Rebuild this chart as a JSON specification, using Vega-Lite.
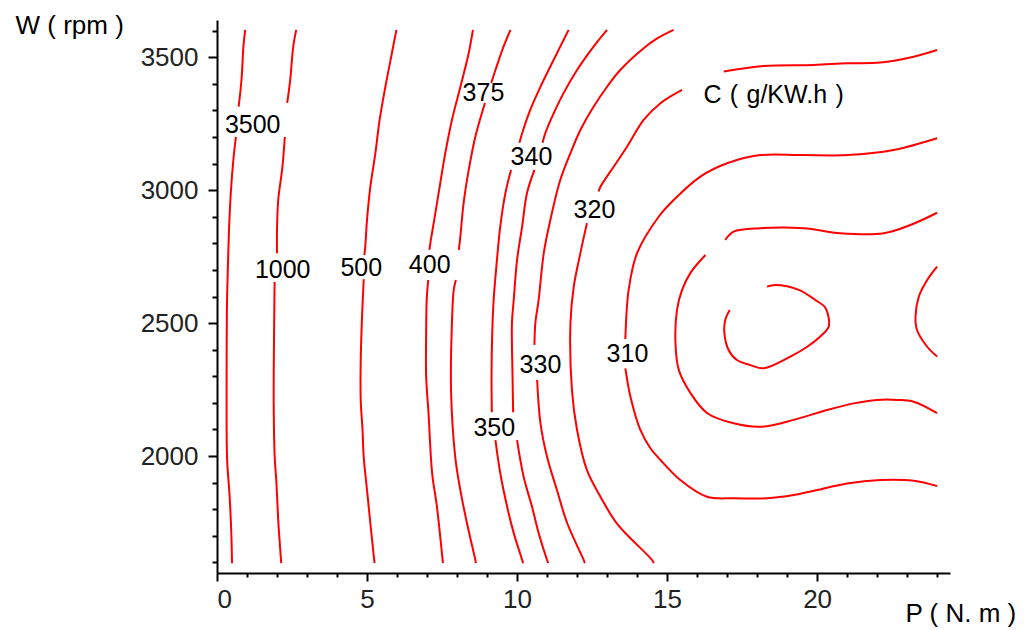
{
  "$schema": "https://vega.github.io/schema/vega-lite/v6.json",
  "width": 733,
  "height": 553,
  "autosize": "none",
  "padding": {"left": 217, "top": 20, "right": 74, "bottom": 57},
  "background": "white",
  "config": {"view": {"stroke": null}, "font": "Liberation Sans"},
  "datasets": {
    "lines": [
      {"s":"3500a","i":1,"x":0.94,"y":3603},{"s":"3500a","i":2,"x":0.88,"y":3540},{"s":"3500a","i":3,"x":0.82,"y":3420},{"s":"3500a","i":4,"x":0.72,"y":3314},
      {"s":"3500b","i":1,"x":0.63,"y":3200},{"s":"3500b","i":2,"x":0.55,"y":3120},{"s":"3500b","i":3,"x":0.46,"y":2990},{"s":"3500b","i":4,"x":0.40,"y":2850},{"s":"3500b","i":5,"x":0.36,"y":2700},{"s":"3500b","i":6,"x":0.33,"y":2550},{"s":"3500b","i":7,"x":0.32,"y":2300},{"s":"3500b","i":8,"x":0.32,"y":2100},{"s":"3500b","i":9,"x":0.34,"y":1980},{"s":"3500b","i":10,"x":0.42,"y":1850},{"s":"3500b","i":11,"x":0.48,"y":1700},{"s":"3500b","i":12,"x":0.50,"y":1597},
      {"s":"1000a","i":1,"x":2.64,"y":3603},{"s":"1000a","i":2,"x":2.54,"y":3539},{"s":"1000a","i":3,"x":2.44,"y":3415},{"s":"1000a","i":4,"x":2.34,"y":3328},
      {"s":"1000b","i":1,"x":2.26,"y":3200},{"s":"1000b","i":2,"x":2.18,"y":3087},{"s":"1000b","i":3,"x":2.04,"y":2963},{"s":"1000b","i":4,"x":2.0,"y":2850},{"s":"1000b","i":5,"x":2.0,"y":2763},
      {"s":"1000c","i":1,"x":1.92,"y":2655},{"s":"1000c","i":2,"x":1.90,"y":2440},{"s":"1000c","i":3,"x":1.89,"y":2200},{"s":"1000c","i":4,"x":1.92,"y":2004},{"s":"1000c","i":5,"x":1.98,"y":1900},{"s":"1000c","i":6,"x":2.04,"y":1760},{"s":"1000c","i":7,"x":2.10,"y":1660},{"s":"1000c","i":8,"x":2.14,"y":1597},
      {"s":"500a","i":1,"x":5.98,"y":3603},{"s":"500a","i":2,"x":5.83,"y":3516},{"s":"500a","i":3,"x":5.61,"y":3388},{"s":"500a","i":4,"x":5.42,"y":3264},{"s":"500a","i":5,"x":5.28,"y":3140},{"s":"500a","i":6,"x":5.11,"y":3012},{"s":"500a","i":7,"x":5.0,"y":2888},{"s":"500a","i":8,"x":4.94,"y":2786},{"s":"500a","i":9,"x":4.91,"y":2756},
      {"s":"500b","i":1,"x":4.89,"y":2665},{"s":"500b","i":2,"x":4.83,"y":2512},{"s":"500b","i":3,"x":4.79,"y":2361},{"s":"500b","i":4,"x":4.79,"y":2211},{"s":"500b","i":5,"x":4.85,"y":2100},{"s":"500b","i":6,"x":4.89,"y":1996},{"s":"500b","i":7,"x":5.0,"y":1872},{"s":"500b","i":8,"x":5.11,"y":1748},{"s":"500b","i":9,"x":5.25,"y":1597},
      {"s":"400a","i":1,"x":8.53,"y":3603},{"s":"400a","i":2,"x":8.39,"y":3516},{"s":"400a","i":3,"x":8.11,"y":3388},{"s":"400a","i":4,"x":7.83,"y":3264},{"s":"400a","i":5,"x":7.61,"y":3140},{"s":"400a","i":6,"x":7.42,"y":3012},{"s":"400a","i":7,"x":7.24,"y":2888},{"s":"400a","i":8,"x":7.11,"y":2801},{"s":"400a","i":9,"x":7.08,"y":2775},
      {"s":"400b","i":1,"x":7.04,"y":2662},{"s":"400b","i":2,"x":6.99,"y":2590},{"s":"400b","i":3,"x":6.97,"y":2450},{"s":"400b","i":4,"x":6.97,"y":2300},{"s":"400b","i":5,"x":7.05,"y":2161},{"s":"400b","i":6,"x":7.17,"y":1936},{"s":"400b","i":7,"x":7.33,"y":1809},{"s":"400b","i":8,"x":7.53,"y":1597},
      {"s":"375a","i":1,"x":9.78,"y":3603},{"s":"375a","i":2,"x":9.55,"y":3540},{"s":"375a","i":3,"x":9.28,"y":3452},{"s":"375a","i":4,"x":9.14,"y":3403},
      {"s":"375b","i":1,"x":8.93,"y":3328},{"s":"375b","i":2,"x":8.61,"y":3201},{"s":"375b","i":3,"x":8.39,"y":3076},{"s":"375b","i":4,"x":8.22,"y":2952},{"s":"375b","i":5,"x":8.11,"y":2825},{"s":"375b","i":6,"x":8.06,"y":2775},
      {"s":"375c","i":1,"x":7.96,"y":2662},{"s":"375c","i":2,"x":7.89,"y":2625},{"s":"375c","i":3,"x":7.83,"y":2500},{"s":"375c","i":4,"x":7.80,"y":2248},{"s":"375c","i":5,"x":7.94,"y":1996},{"s":"375c","i":6,"x":8.11,"y":1872},{"s":"375c","i":7,"x":8.33,"y":1748},{"s":"375c","i":8,"x":8.61,"y":1609},{"s":"375c","i":9,"x":8.63,"y":1597},
      {"s":"350a","i":1,"x":11.72,"y":3603},{"s":"350a","i":2,"x":11.44,"y":3540},{"s":"350a","i":3,"x":11.11,"y":3465},{"s":"350a","i":4,"x":10.78,"y":3389},{"s":"350a","i":5,"x":10.44,"y":3302},{"s":"350a","i":6,"x":10.17,"y":3214},{"s":"350a","i":7,"x":10.08,"y":3178},
      {"s":"350b","i":1,"x":9.80,"y":3076},{"s":"350b","i":2,"x":9.61,"y":2988},{"s":"350b","i":3,"x":9.44,"y":2863},{"s":"350b","i":4,"x":9.33,"y":2737},{"s":"350b","i":5,"x":9.22,"y":2587},{"s":"350b","i":6,"x":9.17,"y":2450},{"s":"350b","i":7,"x":9.15,"y":2300},{"s":"350b","i":8,"x":9.16,"y":2165},
      {"s":"350c","i":1,"x":9.28,"y":2060},{"s":"350c","i":2,"x":9.44,"y":1936},{"s":"350c","i":3,"x":9.67,"y":1809},{"s":"350c","i":4,"x":9.89,"y":1710},{"s":"350c","i":5,"x":10.17,"y":1609},{"s":"350c","i":6,"x":10.2,"y":1597},
      {"s":"340a","i":1,"x":13.0,"y":3603},{"s":"340a","i":2,"x":12.55,"y":3540},{"s":"340a","i":3,"x":12.0,"y":3452},{"s":"340a","i":4,"x":11.55,"y":3365},{"s":"340a","i":5,"x":11.22,"y":3289},{"s":"340a","i":6,"x":10.94,"y":3214},{"s":"340a","i":7,"x":10.85,"y":3178},
      {"s":"340b","i":1,"x":10.58,"y":3076},{"s":"340b","i":2,"x":10.33,"y":2988},{"s":"340b","i":3,"x":10.17,"y":2863},{"s":"340b","i":4,"x":10.0,"y":2737},{"s":"340b","i":5,"x":9.89,"y":2587},{"s":"340b","i":6,"x":9.83,"y":2500},{"s":"340b","i":7,"x":9.85,"y":2300},{"s":"340b","i":8,"x":9.87,"y":2165},
      {"s":"340c","i":1,"x":10.0,"y":2060},{"s":"340c","i":2,"x":10.22,"y":1922},{"s":"340c","i":3,"x":10.5,"y":1809},{"s":"340c","i":4,"x":10.72,"y":1710},{"s":"340c","i":5,"x":11.0,"y":1609},{"s":"340c","i":6,"x":11.04,"y":1597},
      {"s":"330a","i":1,"x":15.22,"y":3603},{"s":"330a","i":2,"x":14.67,"y":3571},{"s":"330a","i":3,"x":14.22,"y":3534},{"s":"330a","i":4,"x":13.44,"y":3452},{"s":"330a","i":5,"x":13.0,"y":3389},{"s":"330a","i":6,"x":12.55,"y":3314},{"s":"330a","i":7,"x":12.11,"y":3226},{"s":"330a","i":8,"x":11.78,"y":3139},{"s":"330a","i":9,"x":11.44,"y":3038},{"s":"330a","i":10,"x":11.11,"y":2888},{"s":"330a","i":11,"x":10.89,"y":2763},{"s":"330a","i":12,"x":10.72,"y":2587},{"s":"330a","i":13,"x":10.61,"y":2500},{"s":"330a","i":14,"x":10.58,"y":2418},
      {"s":"330b","i":1,"x":10.67,"y":2286},{"s":"330b","i":2,"x":10.78,"y":2124},{"s":"330b","i":3,"x":11.0,"y":1997},{"s":"330b","i":4,"x":11.33,"y":1872},{"s":"330b","i":5,"x":11.67,"y":1748},{"s":"330b","i":6,"x":12.22,"y":1609},{"s":"330b","i":7,"x":12.26,"y":1597},
      {"s":"320a","i":1,"x":24.0,"y":3527},{"s":"320a","i":2,"x":23.22,"y":3502},{"s":"320a","i":3,"x":22.11,"y":3480},{"s":"320a","i":4,"x":21.0,"y":3477},{"s":"320a","i":5,"x":19.89,"y":3471},{"s":"320a","i":6,"x":18.22,"y":3467},{"s":"320a","i":7,"x":16.89,"y":3446},
      {"s":"320b","i":1,"x":15.5,"y":3377},{"s":"320b","i":2,"x":14.78,"y":3327},{"s":"320b","i":3,"x":14.22,"y":3264},{"s":"320b","i":4,"x":13.67,"y":3164},{"s":"320b","i":5,"x":13.22,"y":3088},{"s":"320b","i":6,"x":12.78,"y":3013},{"s":"320b","i":7,"x":12.72,"y":2995},
      {"s":"320c","i":1,"x":12.33,"y":2876},{"s":"320c","i":2,"x":12.11,"y":2763},{"s":"320c","i":3,"x":11.89,"y":2637},{"s":"320c","i":4,"x":11.78,"y":2500},{"s":"320c","i":5,"x":11.83,"y":2248},{"s":"320c","i":6,"x":12.0,"y":2098},{"s":"320c","i":7,"x":12.33,"y":1947},{"s":"320c","i":8,"x":12.78,"y":1847},{"s":"320c","i":9,"x":13.33,"y":1746},{"s":"320c","i":10,"x":14.5,"y":1609},{"s":"320c","i":11,"x":14.56,"y":1597},
      {"s":"310a","i":1,"x":24.0,"y":3195},{"s":"310a","i":2,"x":22.55,"y":3151},{"s":"310a","i":3,"x":21.0,"y":3132},{"s":"310a","i":4,"x":19.5,"y":3132},{"s":"310a","i":5,"x":18.11,"y":3132},{"s":"310a","i":6,"x":17.0,"y":3101},{"s":"310a","i":7,"x":16.11,"y":3051},{"s":"310a","i":8,"x":15.22,"y":2963},{"s":"310a","i":9,"x":14.72,"y":2900},{"s":"310a","i":10,"x":14.0,"y":2763},{"s":"310a","i":11,"x":13.72,"y":2625},{"s":"310a","i":12,"x":13.61,"y":2440},
      {"s":"310b","i":1,"x":13.61,"y":2330},{"s":"310b","i":2,"x":13.78,"y":2223},{"s":"310b","i":3,"x":14.11,"y":2098},{"s":"310b","i":4,"x":14.44,"y":2030},{"s":"310b","i":5,"x":14.78,"y":1985},{"s":"310b","i":6,"x":15.44,"y":1910},{"s":"310b","i":7,"x":16.33,"y":1847},{"s":"310b","i":8,"x":17.22,"y":1841},{"s":"310b","i":9,"x":18.33,"y":1841},{"s":"310b","i":10,"x":19.22,"y":1853},{"s":"310b","i":11,"x":20.0,"y":1872},{"s":"310b","i":12,"x":21.0,"y":1897},{"s":"310b","i":13,"x":22.11,"y":1910},{"s":"310b","i":14,"x":23.22,"y":1907},{"s":"310b","i":15,"x":24.0,"y":1887},
      {"s":"300a","i":1,"x":24.0,"y":2915},{"s":"300a","i":2,"x":23.11,"y":2869},{"s":"300a","i":3,"x":22.22,"y":2838},{"s":"300a","i":4,"x":20.78,"y":2838},{"s":"300a","i":5,"x":19.55,"y":2857},{"s":"300a","i":6,"x":18.11,"y":2857},{"s":"300a","i":7,"x":17.22,"y":2844},{"s":"300a","i":8,"x":16.94,"y":2813},
      {"s":"300b","i":1,"x":16.28,"y":2756},{"s":"300b","i":2,"x":15.78,"y":2689},{"s":"300b","i":3,"x":15.5,"y":2625},{"s":"300b","i":4,"x":15.33,"y":2549},{"s":"300b","i":5,"x":15.28,"y":2425},{"s":"300b","i":6,"x":15.39,"y":2324},{"s":"300b","i":7,"x":15.78,"y":2237},{"s":"300b","i":8,"x":16.33,"y":2162},{"s":"300b","i":9,"x":17.22,"y":2123},{"s":"300b","i":10,"x":18.11,"y":2110},{"s":"300b","i":11,"x":19.22,"y":2136},{"s":"300b","i":12,"x":20.33,"y":2173},{"s":"300b","i":13,"x":21.22,"y":2198},{"s":"300b","i":14,"x":22.0,"y":2211},{"s":"300b","i":15,"x":22.67,"y":2211},{"s":"300b","i":16,"x":23.22,"y":2204},{"s":"300b","i":17,"x":24.0,"y":2161},
      {"s":"290a","i":1,"x":18.33,"y":2637},{"s":"290a","i":2,"x":18.61,"y":2643},{"s":"290a","i":3,"x":19.39,"y":2625},{"s":"290a","i":4,"x":19.94,"y":2587},{"s":"290a","i":5,"x":20.28,"y":2557},{"s":"290a","i":6,"x":20.39,"y":2487},{"s":"290a","i":7,"x":20.22,"y":2462},{"s":"290a","i":8,"x":19.67,"y":2411},{"s":"290a","i":9,"x":19.11,"y":2374},{"s":"290a","i":10,"x":18.22,"y":2330},{"s":"290a","i":11,"x":17.78,"y":2342},{"s":"290a","i":12,"x":17.33,"y":2361},{"s":"290a","i":13,"x":17.05,"y":2399},{"s":"290a","i":14,"x":16.91,"y":2463},{"s":"290a","i":15,"x":16.94,"y":2512},{"s":"290a","i":16,"x":17.09,"y":2549},
      {"s":"290b","i":1,"x":24.0,"y":2712},{"s":"290b","i":2,"x":23.67,"y":2662},{"s":"290b","i":3,"x":23.39,"y":2599},{"s":"290b","i":4,"x":23.28,"y":2524},{"s":"290b","i":5,"x":23.33,"y":2474},{"s":"290b","i":6,"x":23.67,"y":2411},{"s":"290b","i":7,"x":24.0,"y":2374}
    ],
    "labels": [
      {"t":"3500","x":1.19,"y":3245},
      {"t":"1000","x":2.19,"y":2700},
      {"t":"500","x":4.81,"y":2708},
      {"t":"400","x":7.09,"y":2719},
      {"t":"375","x":8.88,"y":3366},
      {"t":"340","x":10.48,"y":3125},
      {"t":"320","x":12.58,"y":2926},
      {"t":"330","x":10.78,"y":2342},
      {"t":"350","x":9.24,"y":2107},
      {"t":"310","x":13.68,"y":2384},
      {"t":"C\u2004(\u2004g/KW.h\u2004)","x":18.55,"y":3358}
    ]
  },
  "encoding": {
    "x": {
      "field": "x", "type": "quantitative",
      "scale": {"domain": [0, 24.43], "nice": false, "zero": false},
      "axis": {
        "values": [0,1,2,3,4,5,6,7,8,9,10,11,12,13,14,15,16,17,18,19,20,21,22,23,24],
        "labelExpr": "datum.value % 5 === 0 ? '' + datum.value : ''",
        "tickSize": {"condition": {"test": "datum.value % 5 === 0", "value": 8}, "value": 4},
        "grid": false,
        "domainColor": "black", "domainWidth": 2,
        "tickColor": "black", "tickWidth": 2,
        "labelFont": "Liberation Sans", "labelFontSize": 26, "labelColor": "#222",
        "labelPadding": 5,
        "title": "P ( N. m )",
        "titleFont": "Liberation Sans", "titleFontSize": 26, "titleFontWeight": "normal", "titleColor": "black",
        "titleX": 688, "titleY": 48, "titleAlign": "left", "titleBaseline": "alphabetic"
      }
    },
    "y": {
      "field": "y", "type": "quantitative",
      "scale": {"domain": [1560, 3640], "nice": false, "zero": false},
      "axis": {
        "values": [1600,1700,1800,1900,2000,2100,2200,2300,2400,2500,2600,2700,2800,2900,3000,3100,3200,3300,3400,3500,3600],
        "labelExpr": "datum.value % 500 === 0 ? '' + datum.value : ''",
        "tickSize": {"condition": {"test": "datum.value % 500 === 0", "value": 9}, "value": 5},
        "grid": false,
        "domainColor": "black", "domainWidth": 2,
        "tickColor": "black", "tickWidth": 2,
        "labelFont": "Liberation Sans", "labelFontSize": 26, "labelColor": "#222",
        "labelPadding": 10,
        "title": "W ( rpm )",
        "titleFont": "Liberation Sans", "titleFontSize": 26, "titleFontWeight": "normal", "titleColor": "black",
        "titleAngle": 0, "titleX": -202, "titleY": 13, "titleAlign": "left", "titleBaseline": "alphabetic"
      }
    }
  },
  "layer": [
    {
      "data": {"name": "lines"},
      "mark": {"type": "line", "color": "#ff0000", "strokeWidth": 2, "interpolate": "catmull-rom"},
      "encoding": {
        "detail": {"field": "s", "type": "nominal"},
        "order": {"field": "i", "type": "quantitative"}
      }
    },
    {
      "data": {"name": "labels"},
      "mark": {"type": "text", "font": "Liberation Sans", "fontSize": 25, "color": "black", "align": "center", "baseline": "middle"},
      "encoding": {
        "text": {"field": "t", "type": "nominal"}
      }
    }
  ]
}
